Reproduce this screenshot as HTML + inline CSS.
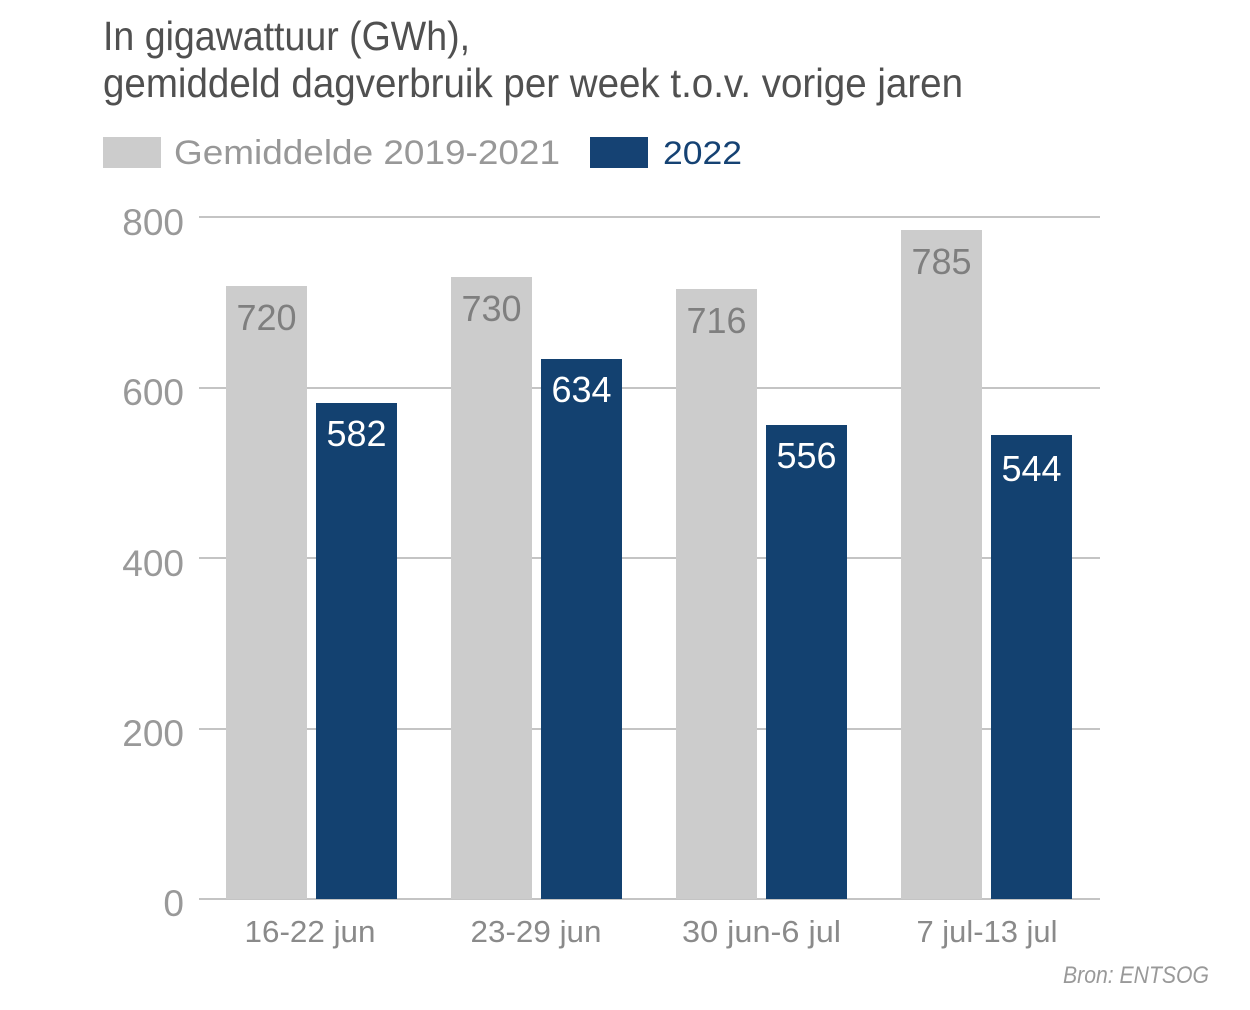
<!DOCTYPE html>
<html>
<head>
<meta charset="utf-8">
<style>
  html, body { margin: 0; padding: 0; background: #ffffff; }
  svg { display: block; }
  text { font-family: "Liberation Sans", "DejaVu Sans", sans-serif; }
</style>
</head>
<body>
<svg width="1250" height="1010" viewBox="0 0 1250 1010" xmlns="http://www.w3.org/2000/svg">
  <rect x="0" y="0" width="1250" height="1010" fill="#ffffff"/>

  <!-- Title -->
  <text x="103" y="50" font-size="41" fill="#505050" textLength="367" lengthAdjust="spacingAndGlyphs">In gigawattuur (GWh),</text>
  <text x="103" y="97" font-size="41" fill="#505050" textLength="860" lengthAdjust="spacingAndGlyphs">gemiddeld dagverbruik per week t.o.v. vorige jaren</text>

  <!-- Legend -->
  <rect x="103" y="137" width="58" height="31" fill="#cccccc"/>
  <text x="174" y="164" font-size="34" fill="#989898" textLength="386" lengthAdjust="spacingAndGlyphs">Gemiddelde 2019-2021</text>
  <rect x="590" y="137" width="58" height="31" fill="#154273"/>
  <text x="663" y="164" font-size="32" fill="#154273" textLength="79" lengthAdjust="spacingAndGlyphs">2022</text>

  <!-- Gridlines -->
  <g stroke="#b0b0b0" stroke-width="1.5">
    <line x1="199" y1="217" x2="1100" y2="217"/>
    <line x1="199" y1="388" x2="1100" y2="388"/>
    <line x1="199" y1="558" x2="1100" y2="558"/>
    <line x1="199" y1="729" x2="1100" y2="729"/>
    <line x1="199" y1="899" x2="1100" y2="899"/>
  </g>

  <!-- Y axis labels -->
  <g font-size="37" fill="#999999" text-anchor="end">
    <text x="184" y="235">800</text>
    <text x="184" y="405">600</text>
    <text x="184" y="576">400</text>
    <text x="184" y="746">200</text>
    <text x="184" y="916">0</text>
  </g>

  <!-- Bars -->
  <g fill="#cccccc">
    <rect x="226" y="286" width="81" height="613"/>
    <rect x="451" y="277" width="81" height="622"/>
    <rect x="676" y="289" width="81" height="610"/>
    <rect x="901" y="230" width="81" height="669"/>
  </g>
  <g fill="#134170">
    <rect x="316" y="403" width="81" height="496"/>
    <rect x="541" y="359" width="81" height="540"/>
    <rect x="766" y="425" width="81" height="474"/>
    <rect x="991" y="435" width="81" height="464"/>
  </g>

  <!-- Value labels -->
  <g font-size="36" fill="#7f7f7f" text-anchor="middle">
    <text x="266.5" y="330">720</text>
    <text x="491.5" y="321">730</text>
    <text x="716.5" y="333">716</text>
    <text x="941.5" y="274">785</text>
  </g>
  <g font-size="36" fill="#ffffff" text-anchor="middle">
    <text x="356.5" y="446">582</text>
    <text x="581.5" y="402">634</text>
    <text x="806.5" y="468">556</text>
    <text x="1031.5" y="481">544</text>
  </g>

  <!-- X axis labels -->
  <g font-size="31" fill="#8a8a8a" text-anchor="middle">
    <text x="310" y="942" textLength="131" lengthAdjust="spacingAndGlyphs">16-22 jun</text>
    <text x="536" y="942" textLength="131" lengthAdjust="spacingAndGlyphs">23-29 jun</text>
    <text x="761.5" y="942" textLength="159" lengthAdjust="spacingAndGlyphs">30 jun-6 jul</text>
    <text x="987" y="942" textLength="141" lengthAdjust="spacingAndGlyphs">7 jul-13 jul</text>
  </g>

  <!-- Source -->
  <text x="1063" y="983" font-size="24" font-style="italic" fill="#999999" textLength="146" lengthAdjust="spacingAndGlyphs">Bron: ENTSOG</text>
</svg>
</body>
</html>
